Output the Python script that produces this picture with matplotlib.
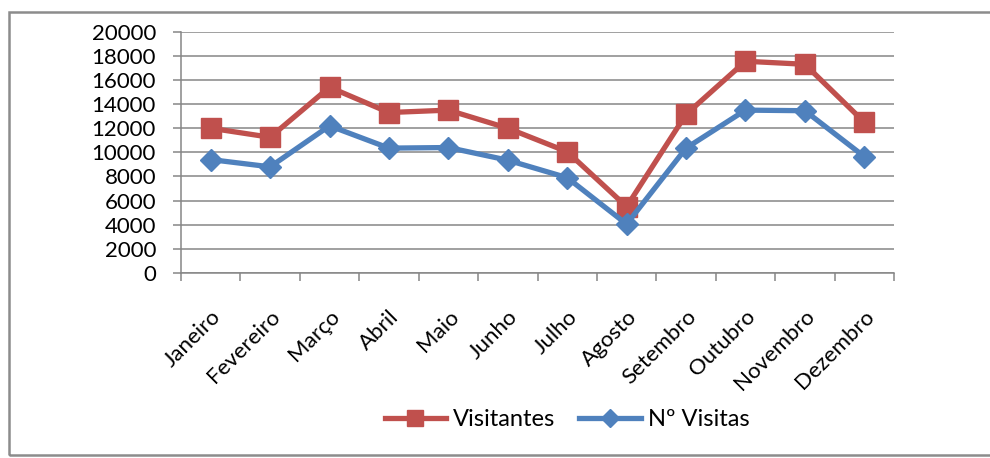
import matplotlib
matplotlib.use("Agg")
import matplotlib.pyplot as plt
from matplotlib.patches import Rectangle

months = ["Janeiro", "Fevereiro", "Março", "Abril", "Maio", "Junho", "Julho",
          "Agosto", "Setembro", "Outubro", "Novembro", "Dezembro"]
visitantes = [12000, 11250, 15400, 13300, 13500, 12000, 10050,
              5500, 13150, 17550, 17300, 12500]
n_visitas = [9400, 8800, 12200, 10350, 10400, 9350, 7900,
             4050, 10350, 13500, 13450, 9650]
y_ticks = list(range(0, 20001, 2000))

plt.rcParams['font.family'] = ['Lato', 'DejaVu Sans']

W, H = 990, 458
fig = plt.figure(figsize=(W / 100, H / 100), dpi=100)

# outer frame
fig.patches.append(Rectangle((9 / W, 1 - 455 / H), (W + 5 - 9) / W, (455 - 12) / H,
                             transform=fig.transFigure, fill=False,
                             edgecolor='#8c8c8c', linewidth=1.8, zorder=0))

ax = fig.add_axes([181 / W, 1 - 273 / H, (894 - 181) / W, (273 - 31.7) / H])
x = list(range(len(months)))
ax.plot(x, visitantes, color='#C0504D', linewidth=3.8, marker='s',
        markersize=14, label='Visitantes', zorder=3)
ax.plot(x, n_visitas, color='#4F81BD', linewidth=3.8, marker='D',
        markersize=11, label='Nº Visitas', zorder=4)

ax.set_xlim(-0.5, len(months) - 0.5)
ax.set_ylim(0, 20000)
ax.set_yticks(y_ticks)
ax.set_yticklabels([str(v) for v in y_ticks], fontsize=16)
ax.yaxis.grid(True, color='#868686', linewidth=1.1)
ax.set_axisbelow(True)
for s in ['top', 'right']:
    ax.spines[s].set_visible(False)
for s in ['left', 'bottom']:
    ax.spines[s].set_color('#868686')
    ax.spines[s].set_linewidth(1.1)

ax.set_xticks([i - 0.5 for i in range(len(months) + 1)])
ax.set_xticklabels([])
ax.set_xticks(x, minor=True)
ax.set_xticklabels(months, minor=True, rotation=45, ha='right',
                   rotation_mode='anchor', fontsize=16)
ax.tick_params(axis='x', which='minor', length=0, pad=24)
ax.tick_params(axis='x', which='major', length=6, color='#868686', width=1.1)
ax.tick_params(axis='y', length=6, color='#868686', width=1.1, pad=12)

ax.legend(loc='center', bbox_to_anchor=(567 / W, 1 - 420 / H),
          bbox_transform=fig.transFigure, ncol=2, frameon=False,
          fontsize=17, handlelength=2.6, columnspacing=1.0, handletextpad=0.3,
          markerscale=0.85)

fig.savefig('out.png', dpi=100)
